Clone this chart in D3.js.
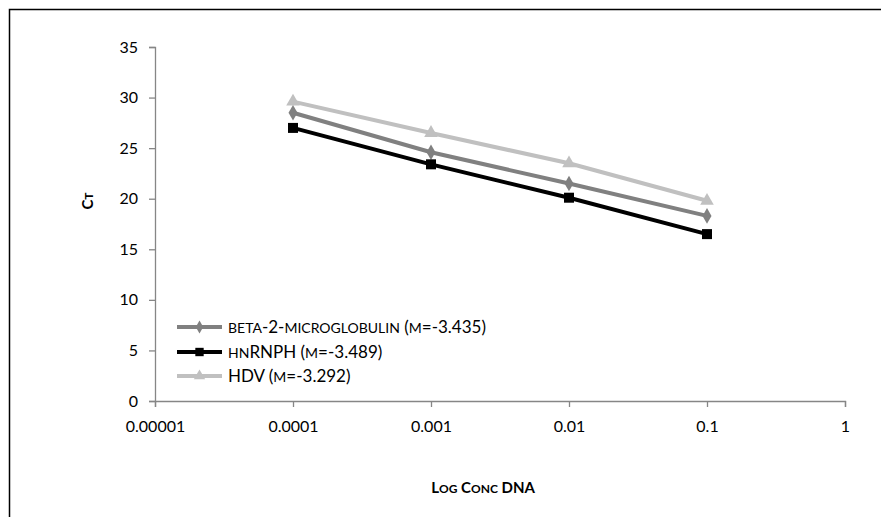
<html>
  <script src='https://d3js.org/d3.v7.min.js'></script>
  <head>
    <title>Ct vs log conc DNA</title>
    <style>
      body { margin: 0; background: white; }
      text { font-family: Lato, "Open Sans", sans-serif; }
    </style>
  </head>
  <body>
    <svg></svg>
    <script>
      // data
      const concs = [0.0001, 0.001, 0.01, 0.1];
      const beta2 = [28.5, 24.6, 21.5, 18.3];
      const hnrnph = [27.0, 23.4, 20.1, 16.5];
      const hdv = [29.6, 26.5, 23.5, 19.8];
      const seriesNames = ["beta-2-microglobulin (m=-3.435)", "hnRNPH (m=-3.489)", "HDV (m=-3.292)"];
      const xTicks = [0.00001, 0.0001, 0.001, 0.01, 0.1, 1];
      const xTickLabels = ["0.00001", "0.0001", "0.001", "0.01", "0.1", "1"];
      const yTicks = [0, 5, 10, 15, 20, 25, 30, 35];

      const width = 881;
      const height = 517;
      const svg = d3.select("svg").attr("width", width).attr("height", height);

      // small caps by hand: lowercase runs become smaller capitals
      function smallCaps(sel, str, big, small) {
        var runs = str.match(/[a-z]+|[^a-z]+/g);
        runs.forEach(function(r) {
          var low = /[a-z]/.test(r[0]);
          sel.append("tspan")
            .text(low ? r.toUpperCase() : r)
            .attr("font-size", low ? small : big);
        });
      }

      // outer frame
      svg.append("rect")
        .attr("x", 9.5).attr("y", 9.5)
        .attr("width", 880).attr("height", 520)
        .attr("fill", "white")
        .attr("stroke", "black")
        .attr("stroke-width", 1.5);

      var x = d3.scaleLog().domain([0.00001, 1]).range([155, 845]);
      var y = d3.scaleLinear().domain([0, 35]).range([401, 47]);

      svg.append("g")
        .attr("transform", "translate(0,401)")
        .call(d3.axisBottom(x).tickValues(xTicks).tickFormat(function(d, i) { return xTickLabels[i]; }).tickSizeOuter(0).tickSize(6).tickPadding(14));
      svg.append("g")
        .attr("transform", "translate(155,0)")
        .call(d3.axisLeft(y).tickValues(yTicks).tickSizeOuter(0).tickSize(6).tickPadding(11));

      svg.selectAll(".domain, .tick line").attr("stroke", "#868686").attr("stroke-width", 1.3);
      svg.selectAll(".tick text").attr("fill", "black").style("font-size", "16px").style("font-family", "Lato, sans-serif");

      // axis titles
      var xt = svg.append("text")
        .attr("x", 483).attr("y", 493)
        .attr("text-anchor", "middle")
        .attr("font-weight", "bold");
      smallCaps(xt, "Log Conc DNA", 15, 12);
      var yt = svg.append("text")
        .attr("transform", "translate(93,201) rotate(-90)")
        .attr("text-anchor", "middle")
        .attr("font-weight", "bold");
      smallCaps(yt, "Ct", 15, 12);

      var series = [
        { name: seriesNames[0], values: beta2, color: "#808080", shape: d3.symbolDiamond, size: 70 },
        { name: seriesNames[1], values: hnrnph, color: "#000000", shape: d3.symbolSquare, size: 100 },
        { name: seriesNames[2], values: hdv, color: "#c0c0c0", shape: d3.symbolTriangle, size: 80 }
      ];

      var line = d3.line().x(function(d) { return x(d[0]); }).y(function(d) { return y(d[1]); });

      // HDV first, then beta, then hnRNPH on top
      [2, 0, 1].forEach(function(k) {
        var s = series[k];
        var pts = concs.map(function(c, i) { return [c, s.values[i]]; });
        svg.append("path")
          .datum(pts)
          .attr("fill", "none")
          .attr("stroke", s.color)
          .attr("stroke-width", 4)
          .attr("d", line);
        svg.selectAll(null)
          .data(pts)
          .enter()
          .append("path")
          .attr("d", d3.symbol().type(s.shape).size(s.size))
          .attr("transform", function(d) { return "translate(" + x(d[0]) + "," + y(d[1]) + ")"; })
          .attr("fill", s.color);
      });

      // legend
      var legendY = [327, 352, 376];
      series.forEach(function(s, i) {
        var g = svg.append("g").attr("transform", "translate(177," + legendY[i] + ")");
        g.append("line")
          .attr("x1", 0).attr("x2", 45)
          .attr("stroke", s.color)
          .attr("stroke-width", 4);
        g.append("path")
          .attr("d", d3.symbol().type(s.shape).size(s.size * 0.7))
          .attr("transform", "translate(22.5,0)")
          .attr("fill", s.color);
        var t = g.append("text")
          .attr("x", 51).attr("y", 6);
        smallCaps(t, s.name, 17, 14);
      });
    </script>
  </body>
</html>
